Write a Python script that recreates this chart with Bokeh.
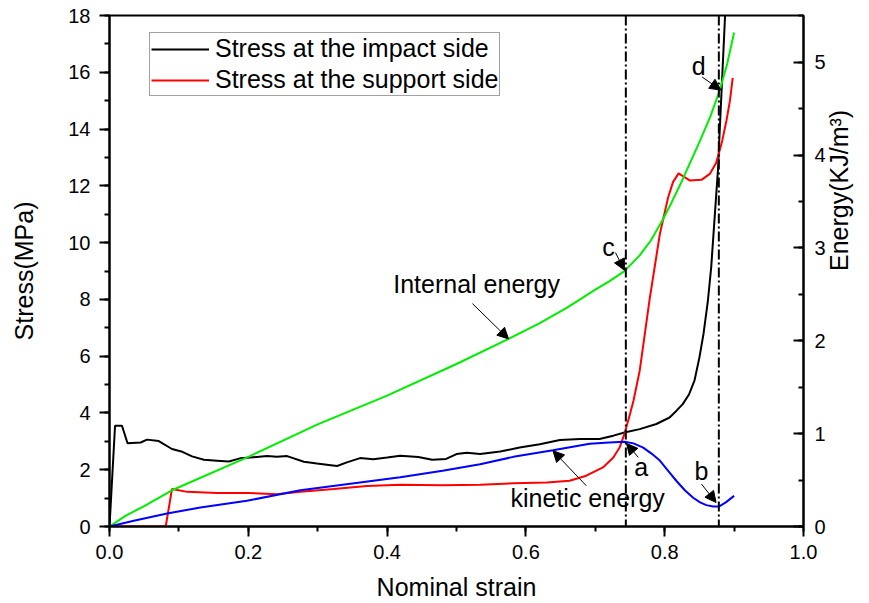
import math
from bokeh.plotting import figure
from bokeh.models import (Range1d, LinearAxis, SingleIntervalTicker, NumeralTickFormatter,
                          Span, Arrow, NormalHead, Label, Legend, LegendItem)
from bokeh.embed import file_html
from bokeh.resources import INLINE

FONT = "Liberation Sans"

# ---- data ----
strain_impact = [0, 0.008, 0.018, 0.026, 0.045, 0.054, 0.071, 0.090, 0.105, 0.119, 0.136, 0.155,
                 0.172, 0.188, 0.203, 0.227, 0.241, 0.256, 0.280, 0.299, 0.316, 0.328, 0.342, 0.361,
                 0.380, 0.400, 0.419, 0.445, 0.465, 0.485, 0.500, 0.515, 0.534, 0.563, 0.591, 0.620,
                 0.649, 0.678, 0.706, 0.726, 0.742, 0.764, 0.788, 0.807, 0.817, 0.826, 0.835, 0.843,
                 0.850, 0.856, 0.862, 0.867, 0.872, 0.877, 0.879, 0.883, 0.887]
stress_impact = [0, 3.55, 3.55, 2.93, 2.96, 3.06, 3.01, 2.73, 2.63, 2.47, 2.35, 2.32,
                 2.29, 2.40, 2.43, 2.48, 2.46, 2.48, 2.28, 2.22, 2.17, 2.13, 2.26, 2.41,
                 2.37, 2.43, 2.49, 2.45, 2.35, 2.38, 2.55, 2.60, 2.55, 2.64, 2.78, 2.90,
                 3.05, 3.08, 3.08, 3.20, 3.31, 3.43, 3.61, 3.84, 4.08, 4.31, 4.65, 5.15,
                 5.95, 6.8, 7.9, 9.13, 10.9, 12.65, 13.8, 15.9, 18.0]

strain_support = [0, 0.081, 0.090, 0.112, 0.155, 0.200, 0.241, 0.275, 0.323, 0.371, 0.419, 0.480,
                  0.534, 0.582, 0.630, 0.663, 0.687, 0.711, 0.726, 0.735, 0.742, 0.750, 0.755,
                  0.764, 0.778, 0.793, 0.805, 0.812, 0.820, 0.836, 0.853, 0.865, 0.874, 0.877,
                  0.883, 0.889, 0.894, 0.898]
stress_support = [0, 0, 1.32, 1.22, 1.18, 1.18, 1.14, 1.22, 1.32, 1.43, 1.47, 1.45,
                  1.47, 1.52, 1.55, 1.61, 1.79, 2.08, 2.43, 2.78, 3.26, 3.96, 4.43,
                  5.49, 7.96, 10.3, 11.6, 12.13, 12.44, 12.19, 12.21, 12.42, 12.8, 13.05,
                  13.6, 14.3, 15.0, 15.8]

strain_internal = [0, 0.023, 0.050, 0.090, 0.200, 0.300, 0.400, 0.500, 0.575, 0.620, 0.660,
                   0.700, 0.720, 0.742, 0.764, 0.780, 0.797, 0.810, 0.826, 0.850, 0.866,
                   0.879, 0.890, 0.900]
energy_internal = [0, 0.115, 0.22, 0.39, 0.75, 1.10, 1.41, 1.75, 2.02, 2.19, 2.36,
                   2.55, 2.64, 2.75, 2.92, 3.08, 3.30, 3.49, 3.74, 4.14, 4.42,
                   4.69, 4.98, 5.32]

strain_kinetic = [0, 0.035, 0.083, 0.131, 0.198, 0.275, 0.347, 0.419, 0.480, 0.534, 0.582,
                  0.639, 0.692, 0.720, 0.742, 0.755, 0.769, 0.781, 0.793, 0.805, 0.817,
                  0.829, 0.841, 0.851, 0.860, 0.870, 0.878, 0.888, 0.900]
energy_kinetic = [0, 0.061, 0.14, 0.205, 0.277, 0.39, 0.46, 0.53, 0.60, 0.67, 0.75,
                  0.82, 0.89, 0.905, 0.913, 0.895, 0.85, 0.785, 0.71, 0.60, 0.49,
                  0.39, 0.31, 0.26, 0.23, 0.215, 0.215, 0.26, 0.33]

marker_strains = [0.744, 0.878]

ann_text = ["a", "b", "c", "d", "Internal energy", "kinetic energy"]
ann_x = [0.766, 0.853, 0.719, 0.849, 0.529, 0.689]
ann_y = [0.643, 0.593, 3.01, 4.96, 2.615, 0.309]
arrow_x0 = [0.762, 0.853, 0.729, 0.854, 0.523, 0.687]
arrow_y0 = [0.744, 0.457, 2.95, 4.84, 2.40, 0.439]
arrow_x1 = [0.745, 0.874, 0.742, 0.881, 0.575, 0.639]
arrow_y1 = [0.894, 0.259, 2.76, 4.70, 2.02, 0.816]

legend_labels = ["Stress at the impact side", "Stress at the support side"]

# ---- figure ----
p = figure(width=869, height=603, output_backend="svg", toolbar_location=None,
           x_range=Range1d(0, 1), y_range=Range1d(0, 18),
           min_border_left=109, min_border_right=65, min_border_top=15, min_border_bottom=77)
p.extra_y_ranges = {"energy": Range1d(0, 5.503)}
p.grid.visible = False
p.outline_line_color = "black"
p.outline_line_width = 2
p.background_fill_color = "white"
p.border_fill_color = "white"


def style_axis(ax, tick_in, tick_out, minor_in, minor_out, standoff, label_standoff):
    ax.axis_line_width = 2
    ax.axis_line_color = "black"
    ax.major_tick_line_width = 2
    ax.minor_tick_line_width = 2
    ax.major_tick_in = tick_in
    ax.major_tick_out = tick_out
    ax.minor_tick_in = minor_in
    ax.minor_tick_out = minor_out
    ax.major_label_text_font = FONT
    ax.major_label_text_font_size = "20px"
    ax.major_label_text_color = "black"
    ax.major_label_standoff = standoff
    ax.axis_label_text_font = FONT
    ax.axis_label_text_font_size = "25px"
    ax.axis_label_text_font_style = "normal"
    ax.axis_label_text_color = "black"
    ax.axis_label_standoff = label_standoff


xa = p.xaxis[0]
xa.ticker = SingleIntervalTicker(interval=0.2, num_minor_ticks=2)
xa.formatter = NumeralTickFormatter(format="0.0")
xa.axis_label = "Nominal strain"
style_axis(xa, 0, 10, 0, 5, 8, 11)

ya = p.yaxis[0]
ya.ticker = SingleIntervalTicker(interval=2, num_minor_ticks=2)
ya.axis_label = "Stress(MPa)"
style_axis(ya, 0, 10, 0, 5, 9, 27)

ra = LinearAxis(y_range_name="energy", axis_label="Energy(KJ/m³)",
                ticker=SingleIntervalTicker(interval=1, num_minor_ticks=2))
style_axis(ra, 10, 0, 5, 0, 11, 10)
ra.axis_label_orientation = math.pi / 2
p.add_layout(ra, "right")

# ---- curves ----
r_imp = p.line(strain_impact, stress_impact, line_color="black", line_width=2)
r_sup = p.line(strain_support, stress_support, line_color="#FF0000", line_width=2)
p.line(strain_internal, energy_internal, line_color="#00EE00", line_width=2, y_range_name="energy")
p.line(strain_kinetic, energy_kinetic, line_color="#0000FF", line_width=2, y_range_name="energy")

for s in marker_strains:
    p.add_layout(Span(location=s, dimension="height", line_color="black",
                      line_width=2, line_dash="10 3 2 3"))

for t, x, y in zip(ann_text, ann_x, ann_y):
    p.add_layout(Label(x=x, y=y, y_range_name="energy", text=t, text_align="center",
                       text_baseline="middle", text_font=FONT, text_font_size="25px",
                       text_color="black"))

for x0, y0, x1, y1 in zip(arrow_x0, arrow_y0, arrow_x1, arrow_y1):
    p.add_layout(Arrow(x_start=x0, y_start=y0, x_end=x1, y_end=y1, y_range_name="energy",
                       line_color="black", line_width=1,
                       end=NormalHead(size=11, fill_color="black", line_color="black",
                                      line_width=1)))

legend = Legend(items=[LegendItem(label=legend_labels[0], renderers=[r_imp]),
                       LegendItem(label=legend_labels[1], renderers=[r_sup])],
                location=(40, 430))
legend.border_line_color = "#444444"
legend.border_line_width = 1
legend.background_fill_color = "white"
legend.background_fill_alpha = 1
legend.label_text_font = FONT
legend.label_text_font_size = "25px"
legend.label_text_color = "black"
legend.glyph_width = 58
legend.glyph_height = 20
legend.label_height = 22
legend.label_standoff = 6
legend.padding = 1
legend.spacing = 2
legend.margin = 0
p.add_layout(legend)

open("out.html", "w").write(file_html(p, INLINE))
